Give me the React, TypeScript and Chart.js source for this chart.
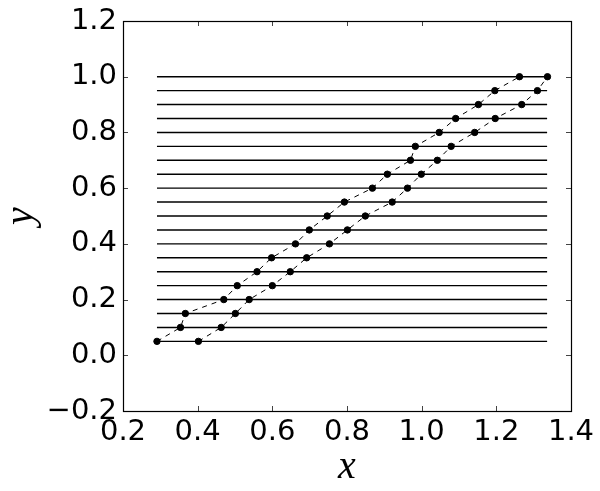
import React, { useEffect, useRef } from "react";
import { Chart, registerables } from "chart.js";

Chart.register(...registerables);

// horizontal reference lines
const yLevels = [0.05, 0.1, 0.15, 0.2, 0.25, 0.3, 0.35, 0.4, 0.45, 0.5, 0.55, 0.6, 0.65, 0.7, 0.75, 0.8, 0.85, 0.9, 0.95, 1.0];
const lineXStart = 0.291;
const lineXEnd = 1.336;

// left dashed series (x values per level)
const seriesAX = [0.291, 0.354, 0.367, 0.47, 0.506, 0.559, 0.598, 0.662, 0.699, 0.747, 0.793, 0.868, 0.908, 0.97, 0.983, 1.047, 1.091, 1.152, 1.196, 1.262];
// right dashed series
const seriesBX = [0.402, 0.463, 0.501, 0.538, 0.6, 0.648, 0.692, 0.753, 0.801, 0.849, 0.921, 0.962, 0.999, 1.042, 1.079, 1.142, 1.197, 1.268, 1.31, 1.337];

const xTicks = [0.2, 0.4, 0.6, 0.8, 1.0, 1.2, 1.4];
const yTicks = [-0.2, 0.0, 0.2, 0.4, 0.6, 0.8, 1.0, 1.2];

const fmt = (v: number) => {
  const s = Math.abs(v) < 1e-9 ? "0.0" : v.toFixed(1);
  return s.replace("-", "\u2212");
};

const framePlugin = {
  id: "frame",
  afterDraw(chart: any) {
    const { ctx, chartArea } = chart;
    const { left, right, top, bottom } = chartArea;
    const xs = chart.scales.x;
    const ys = chart.scales.y;
    ctx.save();
    ctx.strokeStyle = "#444";
    ctx.lineWidth = 1;
    const L = 5;
    ctx.beginPath();
    xTicks.forEach((t) => {
      const px = Math.round(xs.getPixelForValue(t)) + 0.5;
      ctx.moveTo(px, bottom);
      ctx.lineTo(px, bottom - L);
      ctx.moveTo(px, top);
      ctx.lineTo(px, top + L);
    });
    yTicks.forEach((t) => {
      const py = Math.round(ys.getPixelForValue(t)) + 0.5;
      ctx.moveTo(left, py);
      ctx.lineTo(left + L, py);
      ctx.moveTo(right, py);
      ctx.lineTo(right - L, py);
    });
    ctx.stroke();
    ctx.strokeStyle = "#000";
    ctx.lineWidth = 1.2;
    ctx.strokeRect(Math.round(left) + 0.5, Math.round(top) + 0.5, Math.round(right - left), Math.round(bottom - top));
    ctx.restore();
  },
};

export default function App() {
  const ref = useRef<HTMLCanvasElement>(null);
  useEffect(() => {
    if (!ref.current) return;
    const hLines = yLevels.map((y) => ({
      type: "line" as const,
      data: [
        { x: lineXStart, y },
        { x: lineXEnd, y },
      ],
      borderColor: "#000",
      borderWidth: 1.4,
      pointRadius: 0,
      showLine: true,
      order: 2,
    }));
    const dashed = (xs: number[]) => ({
      type: "line" as const,
      data: xs.map((x, i) => ({ x, y: yLevels[i] })),
      borderColor: "#000",
      borderWidth: 1,
      borderDash: [5, 5],
      pointRadius: 3.2,
      pointBackgroundColor: "#000",
      pointBorderColor: "#000",
      pointBorderWidth: 1,
      showLine: true,
      order: 1,
    });
    const chart = new Chart(ref.current, {
      type: "line",
      data: { datasets: [...hLines, dashed(seriesAX), dashed(seriesBX)] as any },
      options: {
        animation: false,
        responsive: false,
        maintainAspectRatio: false,
        layout: { padding: { left: 0, top: 21, right: 29, bottom: 0 } },
        plugins: { legend: { display: false }, tooltip: { enabled: false } },
        elements: { line: { tension: 0 } },
        scales: {
          x: {
            type: "linear",
            min: 0.2,
            max: 1.4,
            afterBuildTicks: (s: any) => {
              s.ticks = xTicks.map((v) => ({ value: v }));
            },
            afterFit: (s: any) => {
              s.height = 80;
            },
            grid: { display: false, drawTicks: false },
            border: { display: false },
            ticks: {
              autoSkip: false,
              maxRotation: 0,
              padding: 4,
              color: "#000",
              font: { family: "DejaVu Sans", size: 29 },
              callback: (v: any) => fmt(Number(v)),
            },
            title: {
              display: true,
              text: "x",
              color: "#000",
              font: { family: "Liberation Serif", size: 40, style: "italic", lineHeight: 1.05 },
              padding: { top: 0, bottom: 3 },
            },
          },
          y: {
            type: "linear",
            min: -0.2,
            max: 1.2,
            afterBuildTicks: (s: any) => {
              s.ticks = yTicks.map((v) => ({ value: v }));
            },
            afterFit: (s: any) => {
              s.width = 123;
            },
            grid: { display: false, drawTicks: false },
            border: { display: false },
            ticks: {
              autoSkip: false,
              padding: 6,
              color: "#000",
              font: { family: "DejaVu Sans", size: 29, lineHeight: 1 },
              callback: (v: any) => fmt(Number(v)),
            },
            title: {
              display: true,
              text: "y",
              color: "#000",
              font: { family: "Liberation Serif", size: 40, style: "italic", lineHeight: 1.05 },
              padding: { top: 0, bottom: 0 },
            },
          },
        },
      },
      plugins: [framePlugin],
    });
    return () => chart.destroy();
  }, []);
  return (
    <div style={{ position: "absolute", left: 0, top: 0, width: 600, height: 491, background: "#fff" }}>
      <canvas ref={ref} width={600} height={491} style={{ display: "block" }} />
    </div>
  );
}
